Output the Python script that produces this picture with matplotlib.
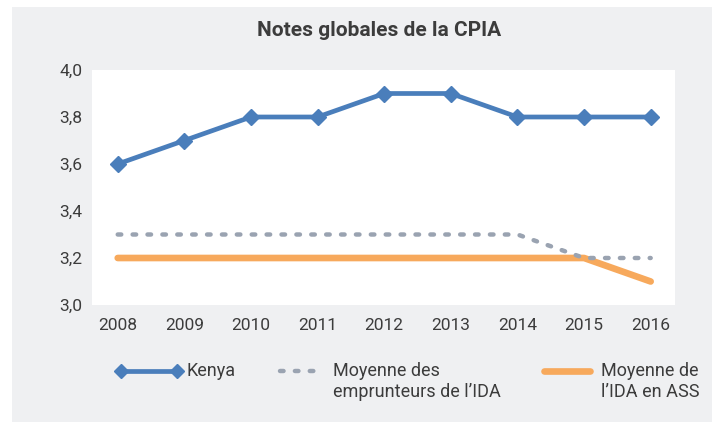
import matplotlib
matplotlib.use("Agg")
import matplotlib.pyplot as plt
from matplotlib.lines import Line2D
from matplotlib.patches import Rectangle
from matplotlib.ticker import FuncFormatter

years = ["2008", "2009", "2010", "2011", "2012", "2013", "2014", "2015", "2016"]
kenya = [3.6, 3.7, 3.8, 3.8, 3.9, 3.9, 3.8, 3.8, 3.8]
ida_borrowers = [3.3, 3.3, 3.3, 3.3, 3.3, 3.3, 3.3, 3.2, 3.2]
ida_ssa = [3.2, 3.2, 3.2, 3.2, 3.2, 3.2, 3.2, 3.2, 3.1]
yticks = [3.0, 3.2, 3.4, 3.6, 3.8, 4.0]
title = "Notes globales de la CPIA"
labels = ["Kenya", "Moyenne des\nemprunteurs de l\u2019IDA", "Moyenne de\nl\u2019IDA en ASS"]

plt.rcParams['font.family'] = ['Roboto', 'DejaVu Sans']

BLUE = "#4a7ebb"
GRAY = "#9aa3b1"
ORANGE = "#f7a95c"
BG = "#eff0f2"
TXT = "#3c3c3c"

KW = dict(color=BLUE, lw=3.4, marker="D", markersize=8.5)
GW = dict(color=GRAY, lw=3.2, dashes=(0.8, 2.55), dash_capstyle="round")
OW = dict(color=ORANGE, lw=4.8, solid_capstyle="round")

W, H = 725, 425
fig = plt.figure(figsize=(7.25, 4.25), dpi=100)
fig.patch.set_facecolor("white")
fig.patches.append(Rectangle((12 / W, 1 - 422 / H), 700 / W, 415 / H,
                             transform=fig.transFigure, facecolor=BG,
                             edgecolor="none", zorder=-5))

ax = fig.add_axes([92 / W, 1 - 305 / H, (675 - 92) / W, (305 - 70) / H])
ax.set_zorder(2)
ax.set_facecolor("white")
x = list(range(len(years)))
ax.plot(x, ida_ssa, zorder=2, **OW)
ax.plot(x, ida_borrowers, zorder=3, **GW)
ax.plot(x, kenya, zorder=4, **KW)

ax.set_xlim(-0.386, 8.365)
ax.set_ylim(3.0, 4.0)
ax.set_yticks(yticks)
ax.yaxis.set_major_formatter(FuncFormatter(lambda v, p: f"{v:.1f}".replace(".", ",")))
ax.set_xticks(x)
ax.set_xticklabels(years)
for s in ax.spines.values():
    s.set_visible(False)
ax.tick_params(length=0, labelsize=12.5, colors=TXT, pad=7)
ax.tick_params(axis="x", pad=9)

fig.text(379 / W, 1 - 31 / H, title, ha="center", va="center",
         fontsize=15, fontweight="bold", color=TXT)

# legend
ly = 1 - 371 / H
fig.lines.append(Line2D([121 / W, 177 / W], [ly, ly], transform=fig.transFigure,
                        **dict(KW, markersize=7.5)))
fig.lines.append(Line2D([280 / W, 318 / W], [ly, ly], transform=fig.transFigure, **GW))
fig.lines.append(Line2D([544 / W, 590 / W], [ly, ly], transform=fig.transFigure, **OW))
for xx, lab in zip([186, 333, 601], labels):
    fig.text(xx / W, 1 - 362 / H, lab, ha="left", va="top", fontsize=13,
             color=TXT, linespacing=1.2)

fig.savefig("out.png", dpi=100, facecolor="white")
